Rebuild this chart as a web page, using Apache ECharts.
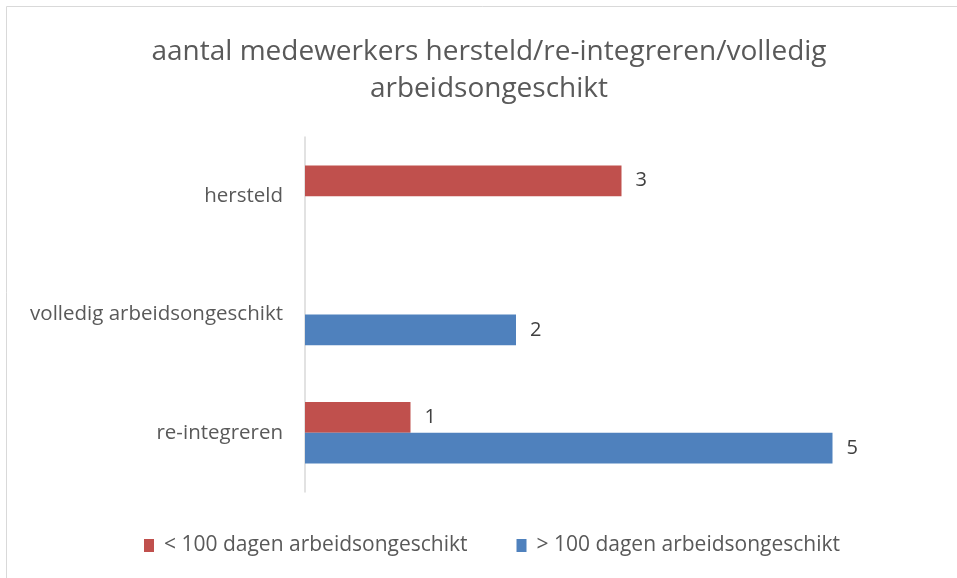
<!DOCTYPE html>
<html>
<head>
<meta charset="utf-8">
<script src="https://cdn.jsdelivr.net/npm/echarts@6/dist/echarts.min.js"></script>
<style>
  html, body { margin: 0; padding: 0; background: #fff; }
  #chart { width: 957px; height: 578px; }
</style>
</head>
<body>
<div id="chart"></div>
<script>
// categories listed bottom to top (as the y axis runs)
const categories = ['re-integreren', 'volledig arbeidsongeschikt', 'hersteld']
const lessThan100 = [1, null, 3]
const moreThan100 = [5, 2, null]
const seriesNames = ['< 100 dagen arbeidsongeschikt', '> 100 dagen arbeidsongeschikt']

const textColor = '#595959'
const fontFamily = "'Open Sans', sans-serif"

const chart = echarts.init(document.getElementById('chart'))

chart.setOption({
  animation: false,
  textStyle: { fontFamily: fontFamily },
  title: {
    text: 'aantal medewerkers hersteld/re-integreren/volledig\narbeidsongeschikt',
    left: 484,
    textAlign: 'center',
    top: 29,
    textStyle: {
      color: textColor,
      fontSize: 28,
      fontWeight: 'normal',
      lineHeight: 37,
      fontFamily: fontFamily
    }
  },
  graphic: [{
    type: 'rect',
    shape: { x: 6.5, y: 6.5, width: 1000, height: 1000 },
    style: { fill: 'none', stroke: '#d9d9d9', lineWidth: 1 },
    silent: true
  }],
  legend: {
    data: seriesNames,
    bottom: 17,
    left: 139,
    itemWidth: 10,
    itemHeight: 13,
    itemGap: 49,
    icon: 'rect',
    textStyle: { color: textColor, fontSize: 21, fontFamily: fontFamily, padding: [0, 0, 0, 5] }
  },
  grid: {
    left: 305,
    right: 19,
    top: 137,
    bottom: 86
  },
  xAxis: {
    type: 'value',
    min: 0,
    max: 6,
    interval: 1,
    axisLabel: { show: false },
    axisLine: { show: false },
    axisTick: { show: false },
    splitLine: { show: false }
  },
  yAxis: {
    type: 'category',
    data: categories,
    axisLine: { show: true, lineStyle: { color: '#d9d9d9', width: 1.5 } },
    axisTick: { show: false },
    axisLabel: { color: textColor, fontSize: 20.5, margin: 22, fontFamily: fontFamily }
  },
  series: [{
    name: seriesNames[0],
    type: 'bar',
    data: lessThan100,
    barGap: '0%',
    barCategoryGap: '48%',
    itemStyle: { color: '#C0504D' },
    label: { show: true, position: 'right', distance: 14, color: '#404040', fontSize: 20, fontFamily: fontFamily }
  }, {
    name: seriesNames[1],
    type: 'bar',
    data: moreThan100,
    barGap: '0%',
    barCategoryGap: '48%',
    itemStyle: { color: '#4F81BD' },
    label: { show: true, position: 'right', distance: 14, color: '#404040', fontSize: 20, fontFamily: fontFamily }
  }]
})
</script>
</body>
</html>
